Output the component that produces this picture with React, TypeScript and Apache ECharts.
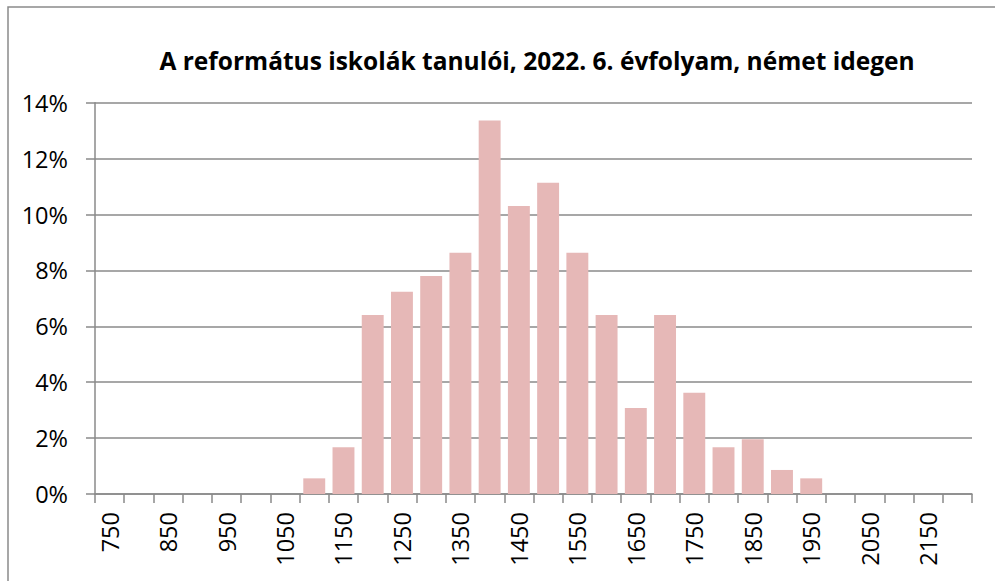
import React, { useEffect, useRef } from "react";
import * as echarts from "echarts";

const categories: string[] = [
  "750", "800", "850", "900", "950", "1000", "1050", "1100", "1150", "1200",
  "1250", "1300", "1350", "1400", "1450", "1500", "1550", "1600", "1650", "1700",
  "1750", "1800", "1850", "1900", "1950", "2000", "2050", "2100", "2150", "2200",
];

// share of students (fraction) per score band
const shares: number[] = [
  0, 0, 0, 0, 0, 0, 0, 0.0056, 0.0167, 0.064,
  0.0724, 0.078, 0.0863, 0.1336, 0.103, 0.1114, 0.0863, 0.064, 0.0308, 0.064,
  0.0362, 0.0167, 0.0196, 0.0086, 0.0056, 0, 0, 0, 0, 0,
];

const titleText = "A református iskolák tanulói, 2022. 6. évfolyam, német idegen";
const FONT = "'Open Sans', Lato, sans-serif";

export default function App() {
  const ref = useRef<HTMLDivElement>(null);
  useEffect(() => {
    if (!ref.current) return;
    const chart = echarts.init(ref.current, undefined, { renderer: "svg" });
    chart.setOption({
      animation: false,
      backgroundColor: "#ffffff",
      textStyle: { fontFamily: FONT },
      title: {
        text: titleText,
        left: 532,
        textAlign: "center",
        top: 43,
        textStyle: { fontFamily: FONT, fontWeight: "bold", fontSize: 24.5, color: "#000" },
      },
      graphic: [
        {
          type: "rect",
          shape: { x: 8, y: 7, width: 1000, height: 600 },
          style: { fill: "none", stroke: "#8a8a8a", lineWidth: 1.5 },
          silent: true,
          z: 100,
        },
      ],
      grid: { left: 95, right: 23, top: 102.7, bottom: 87, containLabel: false },
      xAxis: {
        type: "category",
        data: categories,
        boundaryGap: true,
        axisLine: { show: true, lineStyle: { color: "#8a8a8a", width: 1.5 } },
        axisTick: { show: true, interval: 0, length: 9, lineStyle: { color: "#8a8a8a", width: 1.5 } },
        axisLabel: {
          interval: 1,
          rotate: 90,
          margin: 18,
          color: "#000",
          fontSize: 23.5,
          fontFamily: FONT,
        },
        splitLine: { show: false },
      },
      yAxis: {
        type: "value",
        min: 0,
        max: 0.14,
        interval: 0.02,
        axisLine: { show: true, lineStyle: { color: "#8a8a8a", width: 1.5 } },
        axisTick: { show: true, length: 9, lineStyle: { color: "#8a8a8a", width: 1.5 } },
        axisLabel: {
          margin: 27,
          color: "#000",
          fontSize: 23.5,
          fontFamily: FONT,
          formatter: (v: number) => `${Math.round(v * 100)}%`,
        },
        splitLine: { show: true, lineStyle: { color: "#8a8a8a", width: 1.5 } },
      },
      series: [
        {
          type: "bar",
          data: shares,
          barCategoryGap: "25%",
          itemStyle: { color: "#E6B8B7" },
          z: 3,
        },
      ],
    });
    return () => chart.dispose();
  }, []);
  return (
    <div
      ref={ref}
      style={{ position: "absolute", left: 0, top: 0, width: 995, height: 581 }}
    />
  );
}
